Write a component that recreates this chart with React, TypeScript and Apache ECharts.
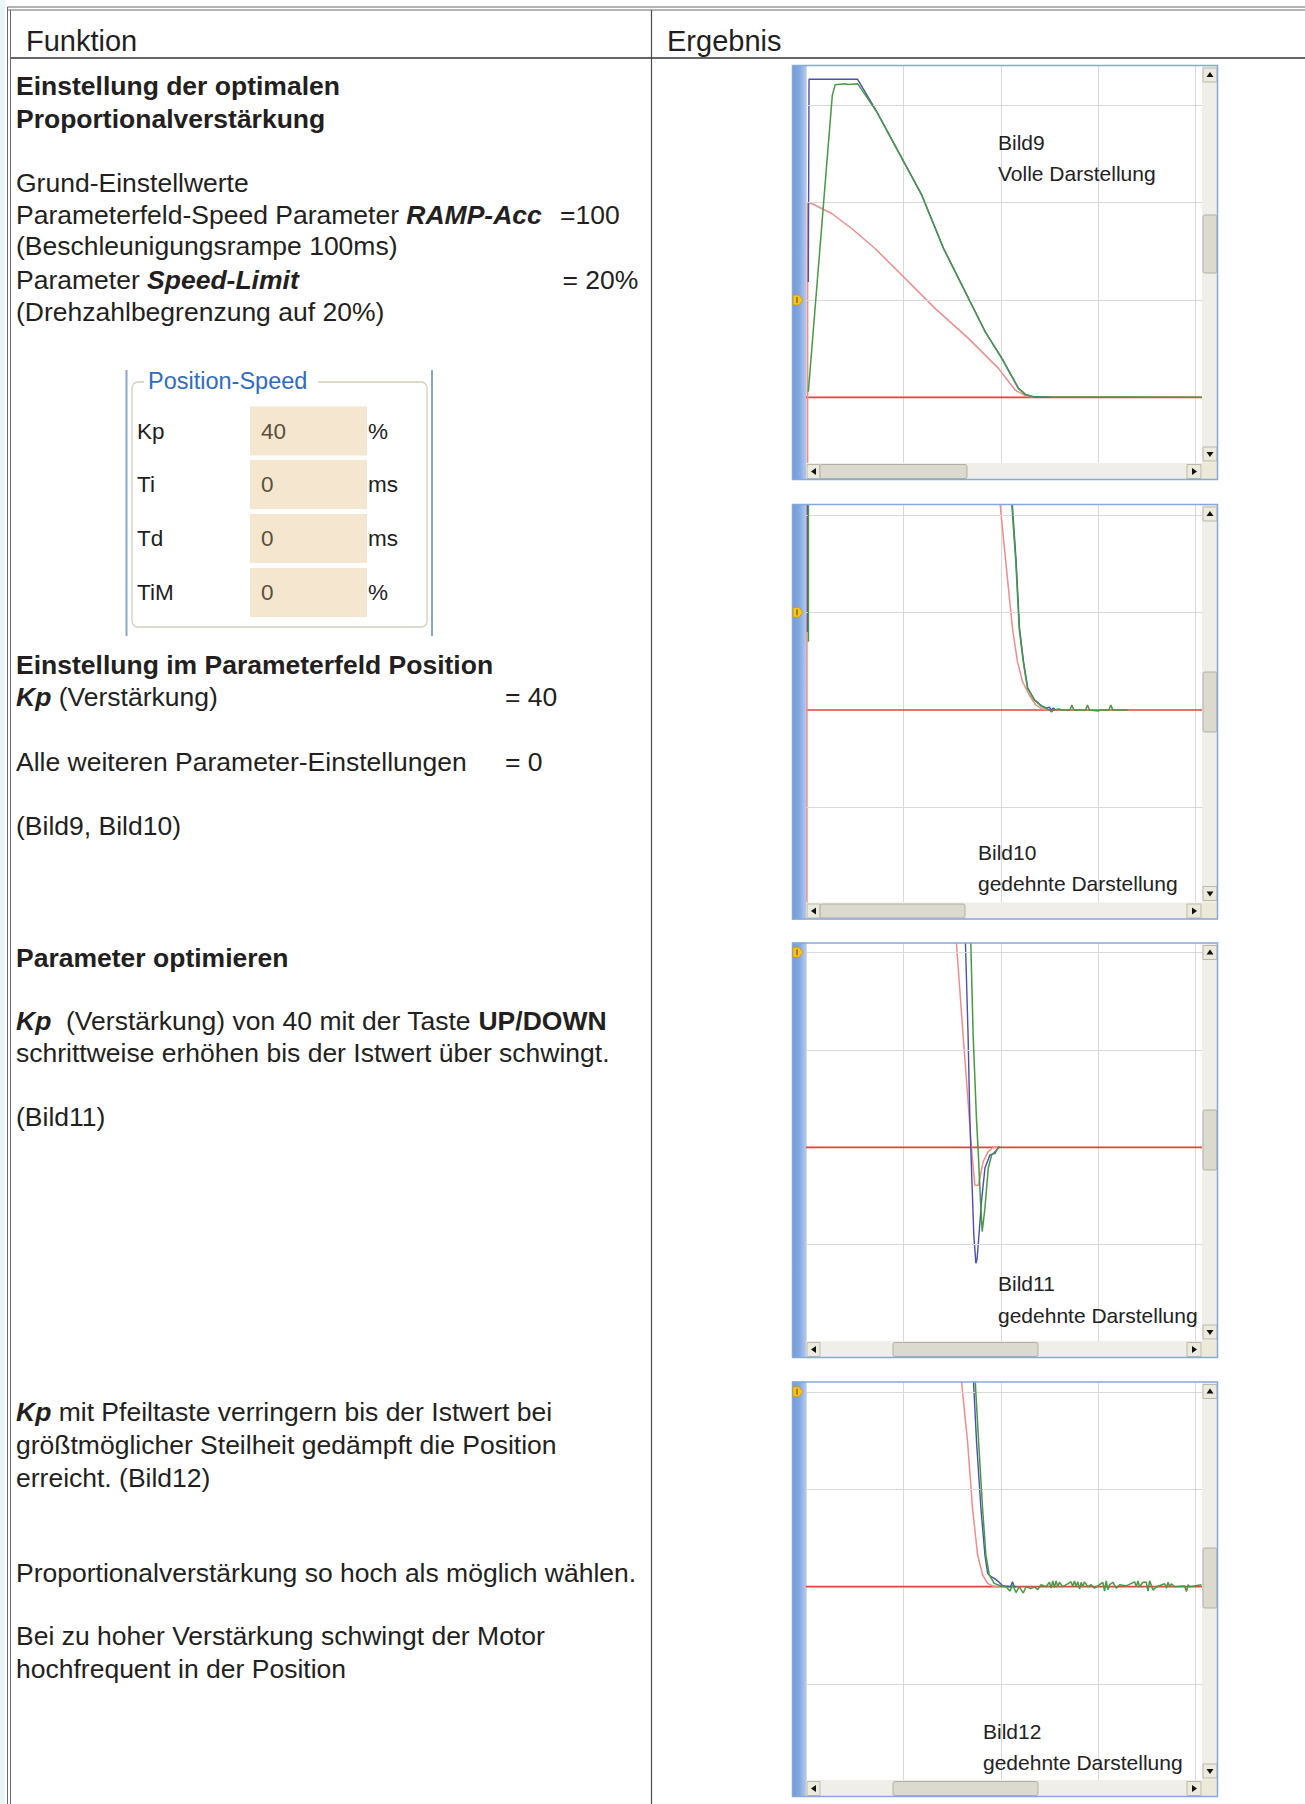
import React, { useEffect, useRef } from "react";
import * as echarts from "echarts";

const FONT = "'Liberation Sans', Arial, Helvetica, sans-serif";
const TEXT = "#231f20";
const DIV = 97.4; // pixels per scope division
const FRAME_LEFT = 792;
const FRAME_RIGHT = 1218;
const PLOT_LEFT = 806;
const PLOT_RIGHT = 1202;

// ---------- Scope traces (x: divisions from left edge, y: divisions from zero line) ----------
const bild9Zero = [[0, 0], [4.1, 0]];
const bild9Speed = [[0.017, -1], [0.017, 1.99], [0.06, 1.99], [0.161, 1.938], [0.264, 1.887], [0.469, 1.733], [0.709, 1.528], [0.983, 1.255], [1.325, 0.913], [1.668, 0.605], [1.976, 0.297], [2.147, 0.075], [2.25, 0.017], [2.336, 0]];
const bild9Setpoint = [[0.024, 1.184], [0.031, 3.265], [0.53, 3.265], [0.728, 2.93], [1.19, 2.075], [1.413, 1.528], [1.841, 0.673], [2.012, 0.4], [2.182, 0.092], [2.252, 0.03], [2.338, 0.005], [2.5, 0]];
const bild9Actual = [[0.024, 0.058], [0.27, 3.1], [0.3, 3.21], [0.4, 3.22], [0.43, 3.212], [0.53, 3.22], [0.726, 2.93], [1.188, 2.075], [1.411, 1.528], [1.839, 0.673], [2.01, 0.4], [2.18, 0.092], [2.25, 0.03], [2.336, 0.005], [4.1, 0]];

const bild10Zero = [[0, 0], [4.1, 0]];
const bild10Speed = [[0.01, -3], [0.01, 6], [1.61, 6], [1.993, 2.11], [2.051, 1.521], [2.12, 0.838], [2.171, 0.496], [2.223, 0.291], [2.292, 0.154], [2.36, 0.051], [2.429, 0.01], [2.5, 0]];
const bild10Setpoint = [[0.015, 0.8], [0.015, 6], [1.9, 6], [2.118, 2.11], [2.158, 1.52], [2.192, 0.84], [2.233, 0.5], [2.277, 0.225], [2.346, 0.105], [2.415, 0.045], [2.47, 0.02], [2.5, 0.03], [2.515, 0], [2.54, 0.02], [2.56, 0]];
const bild10Actual = [[0.025, 0.7], [0.025, 6], [1.9, 6], [2.113, 2.11], [2.154, 1.521], [2.189, 0.838], [2.23, 0.496], [2.274, 0.222], [2.343, 0.103], [2.412, 0.041], [2.463, 0.017], [2.5, 0], [2.52, -0.02], [2.54, 0], [2.6, 0.01], [2.62, 0], [2.71, 0], [2.73, 0.05], [2.75, 0], [2.87, 0], [2.89, 0.05], [2.91, 0], [3.0, -0.01], [3.02, 0], [3.11, 0], [3.13, 0.05], [3.15, 0], [3.3, 0]];

const bild11Zero = [[0, 0], [4.1, 0]];
const bild11Speed = [[1.26, 6], [1.544, 2.1], [1.613, 1.152], [1.664, 0.468], [1.699, -0.01], [1.733, -0.386], [1.768, -0.393], [1.79, -0.29], [1.819, -0.147], [1.871, -0.044], [1.923, 0], [1.99, 0]];
const bild11Setpoint = [[1.52, 6], [1.637, 2.1], [1.664, 1.152], [1.682, 0.297], [1.699, -0.215], [1.723, -0.899], [1.744, -1.19], [1.756, -1.15], [1.768, -1.0], [1.802, -0.557], [1.837, -0.215], [1.888, -0.079], [1.94, -0.062], [1.974, 0], [1.99, 0]];
const bild11Actual = [[1.593, 6], [1.692, 2.1], [1.716, 1.152], [1.75, 0.297], [1.768, -0.044], [1.792, -0.557], [1.809, -0.865], [1.837, -0.626], [1.871, -0.215], [1.906, -0.079], [1.957, -0.027], [1.985, 0], [2.0, 0]];

const bild12Zero = [[0, 0], [4.1, 0]];
const bild12Speed = [[1.2, 6], [1.597, 2.1], [1.659, 1.487], [1.71, 0.803], [1.762, 0.325], [1.813, 0.12], [1.865, 0.034], [1.916, 0.007], [1.99, 0]];
const bild12Setpoint = [[1.52, 6], [1.72, 2.1], [1.751, 1.487], [1.796, 0.803], [1.837, 0.325], [1.865, 0.137], [1.9, 0.103], [1.933, 0.085], [1.985, 0.044], [2.02, 0.01], [2.1, 0], [2.12, 0.05], [2.14, 0], [2.16, 0]];
const bild12Actual = [[1.52, 6], [1.738, 2.1], [1.772, 1.487], [1.813, 0.803], [1.847, 0.325], [1.882, 0.12], [1.933, 0.034], [2.0, 0.007],
  [2.053, 0], [2.094, -0.045], [2.122, 0.02], [2.156, -0.06], [2.19, 0], [2.231, -0.065], [2.259, 0], [2.31, -0.02], [2.345, 0], [2.379, -0.03], [2.413, 0.02], [2.465, 0],
  [2.499, 0.045], [2.516, -0.015], [2.533, 0.06], [2.55, -0.01], [2.567, 0.06], [2.585, 0], [2.602, 0.045], [2.636, 0], [2.722, 0.05], [2.739, 0], [2.756, 0.06], [2.773, 0.005],
  [2.791, 0.05], [2.808, -0.025], [2.825, 0.045], [2.842, 0], [2.859, 0.05], [2.894, 0], [2.928, 0.02], [2.962, -0.015], [3.048, 0.045], [3.065, -0.045], [3.082, 0.06], [3.099, -0.03],
  [3.117, 0.02], [3.151, 0.045], [3.185, -0.015], [3.22, 0.02], [3.288, 0.008], [3.374, 0.05], [3.391, 0], [3.408, 0.06], [3.425, 0], [3.46, 0.045], [3.494, 0.045], [3.511, -0.045],
  [3.528, 0.06], [3.563, -0.035], [3.597, 0], [3.683, 0.03], [3.7, -0.015], [3.717, 0.045], [3.734, 0], [3.751, 0.03], [3.786, 0], [3.888, 0.008], [3.906, -0.05], [3.923, 0.02], [3.94, 0], [4.06, 0.02]];

const gridLevels9 = [1, 2, 3];
const gridLevels = [-1, 1, 2];

// ---------- Layout of the four scope screenshots ----------
const SCOPES = [
  { name: "Bild9", caption: "Volle Darstellung", top: 65, bottom: 480, zero: 397.3, labelX: 998, labelY: 142, vThumb: [215, 273], hThumb: [820, 967], markerY: 300, levels: gridLevels9, zeroLine: bild9Zero, speed: bild9Speed, setpoint: bild9Setpoint, actual: bild9Actual },
  { name: "Bild10", caption: "gedehnte Darstellung", top: 504, bottom: 919.5, zero: 710, labelX: 978, labelY: 852, vThumb: [672, 732], hThumb: [820, 965], markerY: 612.3, levels: gridLevels, zeroLine: bild10Zero, speed: bild10Speed, setpoint: bild10Setpoint, actual: bild10Actual },
  { name: "Bild11", caption: "gedehnte Darstellung", top: 942.5, bottom: 1358, zero: 1147.3, labelX: 998, labelY: 1283.5, vThumb: [1110, 1170], hThumb: [893, 1038], markerY: 952.3, levels: gridLevels, zeroLine: bild11Zero, speed: bild11Speed, setpoint: bild11Setpoint, actual: bild11Actual },
  { name: "Bild12", caption: "gedehnte Darstellung", top: 1381.5, bottom: 1797, zero: 1586.7, labelX: 983, labelY: 1731, vThumb: [1548, 1608], hThumb: [893, 1038], markerY: 1391.7, levels: gridLevels, zeroLine: bild12Zero, speed: bild12Speed, setpoint: bild12Setpoint, actual: bild12Actual },
];

// ---------- Left column text ----------
const LEFT_LINES = [
  { t: "Einstellung der optimalen", y: 86, bold: true },
  { t: "Proportionalverstärkung", y: 118.5, bold: true },
  { t: "Grund-Einstellwerte", y: 183 },
  { t: "Parameterfeld-Speed Parameter {bi|RAMP-Acc}", y: 215.2 },
  { t: "=100", y: 215.2, x: 560 },
  { t: "(Beschleunigungsrampe 100ms)", y: 246.3 },
  { t: "Parameter {bi|Speed-Limit}", y: 279.6 },
  { t: "= 20%", y: 279.6, x: 562.5 },
  { t: "(Drehzahlbegrenzung auf 20%)", y: 311.9 },
  { t: "Einstellung im Parameterfeld Position", y: 665.2, bold: true },
  { t: "{bi|Kp} (Verstärkung)", y: 697.4 },
  { t: "= 40", y: 697.4, x: 505 },
  { t: "Alle weiteren Parameter-Einstellungen", y: 761.8 },
  { t: "= 0", y: 761.8, x: 505 },
  { t: "(Bild9, Bild10)", y: 826.3 },
  { t: "Parameter optimieren", y: 957.5, bold: true },
  { t: "{bi|Kp}  (Verstärkung) von 40 mit der Taste {b|UP/DOWN}", y: 1020.8 },
  { t: "schrittweise erhöhen bis der Istwert über schwingt.", y: 1053 },
  { t: "(Bild11)", y: 1117.4 },
  { t: "{bi|Kp} mit Pfeiltaste verringern bis der Istwert bei", y: 1412 },
  { t: "größtmöglicher Steilheit gedämpft die Position", y: 1445.4 },
  { t: "erreicht. (Bild12)", y: 1477.6 },
  { t: "Proportionalverstärkung so hoch als möglich wählen.", y: 1573.2 },
  { t: "Bei zu hoher Verstärkung schwingt der Motor", y: 1636.4 },
  { t: "hochfrequent in der Position", y: 1668.7 },
];

const PARAM_LABELS = ["Kp", "Ti", "Td", "TiM"];
const PARAM_VALUES = ["40", "0", "0", "0"];
const PARAM_UNITS = ["%", "ms", "ms", "%"];

const BODY_SIZE = 26.5;
const RICH = {
  bi: { fontSize: BODY_SIZE, fontFamily: FONT, fontWeight: "bold", fontStyle: "italic", fill: TEXT },
  b: { fontSize: BODY_SIZE, fontFamily: FONT, fontWeight: "bold", fill: TEXT },
};

function txt(x: number, y: number, text: string, extra: any = {}) {
  return {
    type: "text", x, y, z: 60, silent: true,
    style: { text, fill: TEXT, fontSize: BODY_SIZE, fontFamily: FONT, align: "left", verticalAlign: "middle", ...extra },
  };
}

function line(x1: number, y1: number, x2: number, y2: number, stroke: string, lineWidth = 1, z = 40) {
  return { type: "line", z, silent: true, shape: { x1, y1, x2, y2 }, style: { stroke, lineWidth } };
}

function rect(x: number, y: number, w: number, h: number, style: any, z = 50, r = 0) {
  return { type: "rect", z, silent: true, shape: { x, y, width: w, height: h, r }, style };
}

function tri(points: number[][], z = 56) {
  return { type: "polygon", z, silent: true, shape: { points }, style: { fill: "#111" } };
}

function tableGraphics() {
  const g: any[] = [];
  g.push(rect(0, 0, 5, 1804, { fill: "#eaf5f5" }, 1));
  g.push(line(7.5, 7, 1305, 7, "#6a6a6a", 1));
  g.push(line(7.5, 10, 1305, 10, "#6a6a6a", 1));
  g.push(line(7.5, 7, 7.5, 1804, "#6a6a6a", 1));
  g.push(line(10.5, 10, 10.5, 1804, "#6a6a6a", 1));
  g.push(line(10.5, 58, 1305, 58, "#666666", 2));
  g.push(line(651.5, 10, 651.5, 1804, "#4a4a4a", 1.2));
  g.push(txt(26, 41, "Funktion", { fontSize: 29 }));
  g.push(txt(667, 41, "Ergebnis", { fontSize: 29 }));
  for (const l of LEFT_LINES) {
    g.push(txt(l.x ?? 16, l.y, l.t, { fontWeight: l.bold ? "bold" : "normal", rich: RICH }));
  }
  // Position-Speed parameter box
  g.push(line(126.5, 370, 126.5, 636, "#8aa6cc", 2));
  g.push(line(432, 370, 432, 636, "#8aa6cc", 2));
  g.push({ type: "rect", z: 41, silent: true, shape: { x: 132, y: 382, width: 295, height: 245, r: 6 }, style: { fill: "none", stroke: "#d2cdbd", lineWidth: 1.3 } });
  g.push(rect(144, 370, 174, 24, { fill: "#ffffff" }, 42));
  g.push(txt(148, 381, "Position-Speed", { fontSize: 23.5, fill: "#2f6cc0" }));
  const rowY = [431, 484.5, 538.5, 592.5];
  rowY.forEach((y, i) => {
    g.push(rect(250, y - 24.5, 117, 49, { fill: "#f5e7cf" }, 42));
    g.push(txt(137, y, PARAM_LABELS[i], { fontSize: 22.5, fill: "#1e1e1e" }));
    g.push(txt(261, y, PARAM_VALUES[i], { fontSize: 22.5, fill: "#5b4f3c" }));
    g.push(txt(368, y, PARAM_UNITS[i], { fontSize: 22.5, fill: "#1e1e1e" }));
  });
  return g;
}

function scopeGraphics(c: any) {
  const g: any[] = [];
  const T = c.top, B = c.bottom, PT = T + 1, PB = B - 17;
  const btn = { fill: "#ece9dd", stroke: "#bdb9aa", lineWidth: 1 };
  const track = { fill: "#f0eee8" };
  // left blue bar
  g.push(rect(FRAME_LEFT, T, PLOT_LEFT - FRAME_LEFT, B - T, {
    fill: new echarts.graphic.LinearGradient(0, 0, 1, 0, [
      { offset: 0, color: "#6f9ad6" }, { offset: 0.55, color: "#86a9e0" }, { offset: 1, color: "#b3c9ee" },
    ]),
  }, 50));
  // vertical scrollbar
  g.push(rect(PLOT_RIGHT, T, FRAME_RIGHT - PLOT_RIGHT, PB - T, track, 50));
  g.push(rect(PLOT_RIGHT + 1, PT + 2, 14, 14, btn, 52));
  g.push(tri([[PLOT_RIGHT + 8, PT + 6], [PLOT_RIGHT + 4.5, PT + 11], [PLOT_RIGHT + 11.5, PT + 11]]));
  g.push(rect(PLOT_RIGHT + 1, PB - 16, 14, 14, btn, 52));
  g.push(tri([[PLOT_RIGHT + 8, PB - 6], [PLOT_RIGHT + 4.5, PB - 11], [PLOT_RIGHT + 11.5, PB - 11]]));
  g.push(rect(PLOT_RIGHT + 1, c.vThumb[0], 14, c.vThumb[1] - c.vThumb[0], { fill: "#dcd9cf", stroke: "#b3afa2", lineWidth: 1 }, 52, 2));
  // horizontal scrollbar
  g.push(rect(PLOT_LEFT, PB, PLOT_RIGHT - PLOT_LEFT, B - PB, track, 50));
  g.push(rect(PLOT_LEFT + 1, PB + 1.5, 13, 14, btn, 52));
  g.push(tri([[PLOT_LEFT + 5, PB + 8.5], [PLOT_LEFT + 10, PB + 5], [PLOT_LEFT + 10, PB + 12]]));
  g.push(rect(PLOT_RIGHT - 15, PB + 1.5, 14, 14, btn, 52));
  g.push(tri([[PLOT_RIGHT - 5, PB + 8.5], [PLOT_RIGHT - 10, PB + 5], [PLOT_RIGHT - 10, PB + 12]]));
  g.push(rect(c.hThumb[0], PB + 1.5, c.hThumb[1] - c.hThumb[0], 14, { fill: "#dcd9cf", stroke: "#b3afa2", lineWidth: 1 }, 52, 2));
  g.push(rect(PLOT_RIGHT, PB, FRAME_RIGHT - PLOT_RIGHT, B - PB, { fill: "#ece9d8" }, 51));
  // frame border
  g.push({ type: "rect", z: 58, silent: true, shape: { x: FRAME_LEFT + 0.5, y: T + 0.5, width: FRAME_RIGHT - FRAME_LEFT - 1, height: B - T - 1 }, style: { fill: "none", stroke: "#86a8de", lineWidth: 1.5 } });
  // trigger marker
  const my = c.markerY;
  g.push({ type: "polygon", z: 59, silent: true, shape: { points: [[793, my - 5], [799, my - 5], [803, my], [799, my + 5], [793, my + 5]] }, style: { fill: "#f7c51e", stroke: "#c99a00", lineWidth: 0.8 } });
  g.push(line(797, my - 3, 797, my + 3, "#5a4000", 1, 60));
  // captions
  g.push(txt(c.labelX, c.labelY, c.name, { fontSize: 21, fill: "#222" }));
  g.push(txt(c.labelX, c.labelY + 31.5, c.caption, { fontSize: 21, fill: "#222" }));
  return g;
}

function buildOption() {
  const grids: any[] = [];
  const xAxes: any[] = [];
  const yAxes: any[] = [];
  const series: any[] = [];
  const xMax = (PLOT_RIGHT - PLOT_LEFT) / DIV;
  SCOPES.forEach((c, i) => {
    const PT = c.top + 1, PB = c.bottom - 17;
    grids.push({ left: PLOT_LEFT, top: PT, width: PLOT_RIGHT - PLOT_LEFT, height: PB - PT, containLabel: false, show: false });
    xAxes.push({
      gridIndex: i, type: "value", min: 0, max: xMax, interval: 1,
      axisLine: { show: false }, axisTick: { show: false }, axisLabel: { show: false },
      splitLine: { show: true, lineStyle: { color: "#d9d9d9", width: 1 } },
    });
    yAxes.push({
      gridIndex: i, type: "value", min: -(PB - c.zero) / DIV, max: (c.zero - PT) / DIV,
      axisLine: { show: false }, axisTick: { show: false }, axisLabel: { show: false }, splitLine: { show: false },
    });
    const base = { type: "line", xAxisIndex: i, yAxisIndex: i, showSymbol: false, symbol: "none", smooth: false, clip: true, silent: true };
    series.push({
      ...base, name: c.name + " Null", z: 2, data: c.zeroLine,
      lineStyle: { color: "#e8403c", width: 1.7 },
      markLine: {
        silent: true, symbol: ["none", "none"], label: { show: false }, animation: false,
        lineStyle: { color: "#d9d9d9", width: 1, type: "solid" },
        data: c.levels.map((v: number) => ({ yAxis: v })),
      },
    });
    series.push({ ...base, name: c.name + " Drehzahl", z: 3, data: c.speed, lineStyle: { color: "#f08c8c", width: 1.5 } });
    series.push({ ...base, name: c.name + " Sollwert", z: 4, data: c.setpoint, lineStyle: { color: "#4a4fb0", width: 1.4 } });
    series.push({ ...base, name: c.name + " Istwert", z: 5, data: c.actual, lineStyle: { color: "#479a43", width: 1.5 } });
  });
  const elements = [...tableGraphics(), ...SCOPES.flatMap((c) => scopeGraphics(c))];
  return {
    animation: false,
    backgroundColor: "#ffffff",
    grid: grids,
    xAxis: xAxes,
    yAxis: yAxes,
    series,
    graphic: { elements },
  };
}

export default function App() {
  const ref = useRef<HTMLDivElement>(null);
  useEffect(() => {
    if (!ref.current) return;
    const chart = echarts.init(ref.current, null, { renderer: "svg" });
    chart.setOption(buildOption() as any);
    return () => chart.dispose();
  }, []);
  return (
    <div
      ref={ref}
      style={{ position: "absolute", left: 0, top: 0, width: 1305, height: 1804, background: "#ffffff" }}
    />
  );
}
